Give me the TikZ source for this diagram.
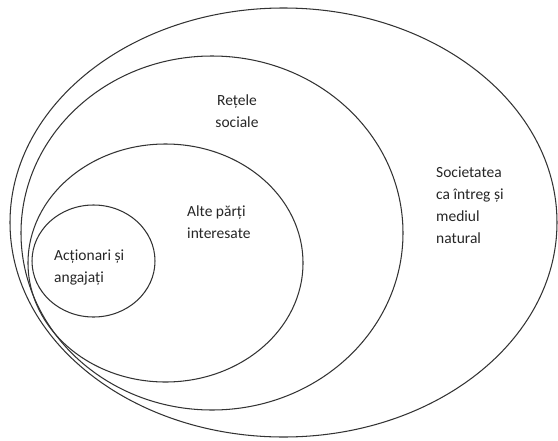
\documentclass[tikz,border=0pt]{standalone}
\usepackage{fontspec}
\setmainfont{Carlito}
\begin{document}
\begin{tikzpicture}[x=1pt,y=-1pt,
  ring/.style={draw=black!80, line width=1.05pt},
  lbl/.style={inner sep=0pt, align=left, anchor=west, text=black!85,
    font=\fontsize{15.5}{22}\selectfont}]
\useasboundingbox (0,0) rectangle (558,440);
% nested ellipses, outermost first
\draw[ring] (283.5,222.5) ellipse [x radius=273.5, y radius=214.5];
\draw[ring] (212,233) ellipse [x radius=191, y radius=177];
\draw[ring] (165.5,263) ellipse [x radius=137.5, y radius=119];
\draw[ring] (93.5,261) ellipse [x radius=61.5, y radius=56];
% labels
\node[lbl, align=center, anchor=center] (l2) at (237,111) {Rețele\\sociale};
\node[lbl] (l1) at (436,205) {Societatea\\ca întreg și\\mediul\\natural};
\node[lbl] (l3) at (187,222) {Alte părți\\interesate};
\node[lbl] (l4) at (54,268) {Acționari și\\angajați};
\end{tikzpicture}
\end{document}
